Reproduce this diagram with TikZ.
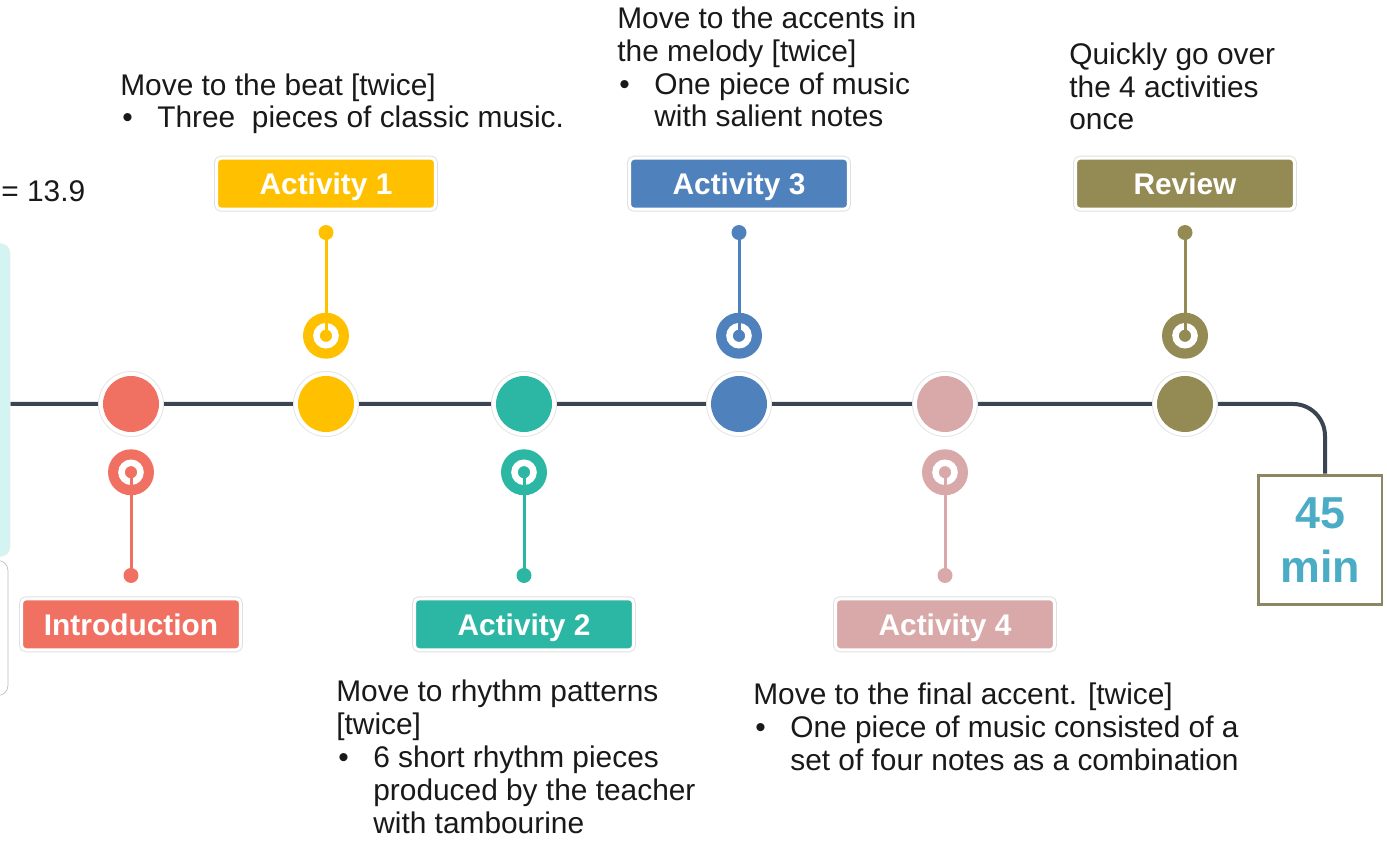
\documentclass[tikz,border=0pt]{standalone}
\usepackage{fontspec}
\setmainfont{Liberation Sans}
\usetikzlibrary{positioning, backgrounds}

\definecolor{introred}{RGB}{240,112,98}
\definecolor{actyellow}{RGB}{255,192,0}
\definecolor{actteal}{RGB}{43,183,163}
\definecolor{actblue}{RGB}{79,129,189}
\definecolor{actpink}{RGB}{217,168,168}
\definecolor{reviewolive}{RGB}{148,138,84}
\definecolor{lineslate}{RGB}{59,68,82}
\definecolor{minblue}{RGB}{75,172,198}
\definecolor{boxolive}{RGB}{140,134,98}
\definecolor{panelcyan}{RGB}{212,244,244}

\newcommand{\bul}{\makebox[0.74cm][l]{\hspace{0.04cm}\textbullet}}
\newcommand{\ind}{\hspace*{0.74cm}}

\tikzset{
  dot/.style={circle, minimum size=1.3cm, inner sep=0, fill=white, draw=black!10, line width=0.5pt,
    path picture={\fill[#1] (path picture bounding box.center) circle (0.56cm);}},
  ring/.style={circle, minimum size=0.92cm, inner sep=0, fill=#1,
    path picture={\draw[white, line width=0.13cm] (path picture bounding box.center) circle (0.19cm);}},
  stemend/.style={circle, minimum size=0.3cm, inner sep=0, fill=#1},
  stem/.style={draw=#1, line width=0.06cm},
  tag/.style={rectangle, rounded corners=0.09cm, fill=#1, draw=white, line width=0.06cm,
    preaction={draw=black!12, line width=0.1cm},
    minimum width=4.38cm, minimum height=1.02cm, text height=12.2pt, text depth=0pt, text=white,
    font=\fontsize{17}{20}\selectfont\bfseries}
}

\begin{document}
\begin{tikzpicture}[x=0.02cm, y=-0.02cm, node distance=0.24cm,
  every node/.style={font=\fontsize{17}{18.7}\selectfont}]
\tikzstyle{note} = [align=left, anchor=base west, inner sep=0, text=black!90]
\tikzstyle{timeline} = [draw=lineslate, line width=0.08cm, rounded corners=0.64cm]

\useasboundingbox (0,0) rectangle (1387,844);

% side panels
\node (panel) [rectangle, rounded corners=0.2cm, fill=panelcyan, draw=black!8, minimum width=2.8cm, minimum height=6.26cm] at (-60,400) {};
\node (panelb) [rectangle, rounded corners=0.2cm, fill=white, draw=black!25, minimum width=2.8cm, minimum height=2.7cm] at (-62,628) {};
\node (score) [note] at (1,202) {= 13.9};

% Nodes
\node (dintro) [dot=introred] at (131,404) {};
\node (dact1) [dot=actyellow] at (326,404) {};
\node (dact2) [dot=actteal] at (524,404) {};
\node (dact3) [dot=actblue] at (739,404) {};
\node (dact4) [dot=actpink] at (945,404) {};
\node (drev) [dot=reviewolive] at (1185,404) {};

\node (rintro) [ring=introred, below=of dintro] {};
\node (ract1) [ring=actyellow, above=of dact1] {};
\node (ract2) [ring=actteal, below=of dact2] {};
\node (ract3) [ring=actblue, above=of dact3] {};
\node (ract4) [ring=actpink, below=of dact4] {};
\node (rrev) [ring=reviewolive, above=of drev] {};

\node (eintro) [stemend=introred, below=1.44cm of rintro] {};
\node (eact1) [stemend=actyellow, above=1.44cm of ract1] {};
\node (eact2) [stemend=actteal, below=1.44cm of ract2] {};
\node (eact3) [stemend=actblue, above=1.44cm of ract3] {};
\node (eact4) [stemend=actpink, below=1.44cm of ract4] {};
\node (erev) [stemend=reviewolive, above=1.44cm of rrev] {};

\node (tintro) [tag=introred, below=0.28cm of eintro] {Introduction};
\node (tact1) [tag=actyellow, above=0.28cm of eact1] {Activity 1};
\node (tact2) [tag=actteal, below=0.28cm of eact2] {Activity 2};
\node (tact3) [tag=actblue, above=0.28cm of eact3] {Activity 3};
\node (tact4) [tag=actpink, below=0.28cm of eact4] {Activity 4};
\node (trev) [tag=reviewolive, above=0.28cm of erev] {Review};

\node (total) [rectangle, draw=boxolive, line width=0.06cm, fill=white, minimum width=2.48cm, minimum height=2.6cm,
  align=center, text=minblue, font=\fontsize{25.5}{31.2}\selectfont\bfseries] at (1320,540) {45\\min};

% notes (anchored on the last line)
\node (nact1) [note] at (120,128) {Move to the beat [twice]\\\bul Three~ pieces of classic music.};
\node (nact3) [note] at (617,127) {Move to the accents in\\the melody [twice]\\\bul One piece of music\\\ind with salient notes};
\node (nrev) [note] at (1069,130) {Quickly go over\\the 4 activities\\once};
\node (nact2) [note] at (336,833) {Move to rhythm patterns\\ {[twice]}\\\bul 6 short rhythm pieces\\\ind produced by the teacher\\\ind with tambourine};
\node (nact4) [note] at (753,770) {Move to the final accent. [twice]\\\bul One piece of music consisted of a\\\ind set of four notes as a combination};

% Lines
\begin{scope}[on background layer]
\draw [timeline] (panel.east |- dintro) -| ([xshift=0.1cm]total.north);
\end{scope}
\draw [stem=introred] (rintro.center) -- (eintro.center);
\draw [stem=actyellow] (ract1.center) -- (eact1.center);
\draw [stem=actteal] (ract2.center) -- (eact2.center);
\draw [stem=actblue] (ract3.center) -- (eact3.center);
\draw [stem=actpink] (ract4.center) -- (eact4.center);
\draw [stem=reviewolive] (rrev.center) -- (erev.center);

\end{tikzpicture}
\end{document}
